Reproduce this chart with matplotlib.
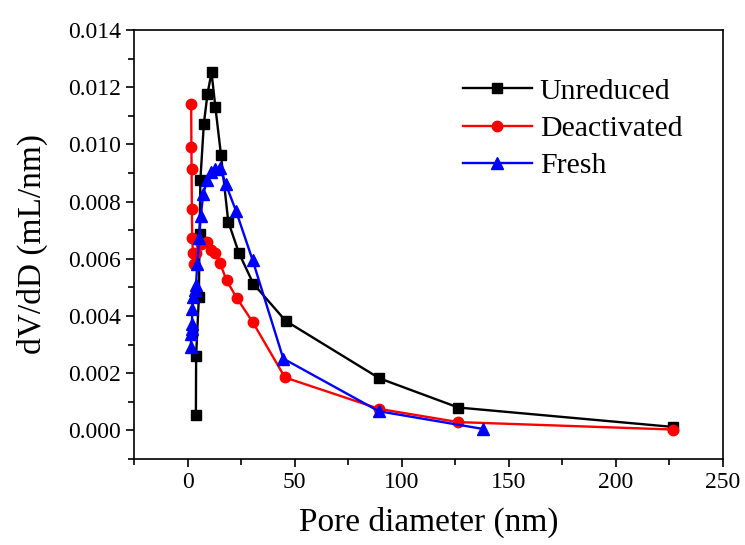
import matplotlib
matplotlib.use("Agg")
import matplotlib.pyplot as plt
from matplotlib.ticker import MultipleLocator

plt.rcParams['font.family'] = ['Liberation Serif', 'DejaVu Serif']
plt.rcParams['mathtext.fontset'] = 'stix'

unreduced_x = [3.9, 4.0, 5.3, 5.6, 6.0, 7.6, 9.3, 11.2, 13.0, 15.6, 19.0, 24.0, 30.7, 45.8, 89.6, 126.4, 226.8]
unreduced_y = [0.00053, 0.00261, 0.00468, 0.00686, 0.00877, 0.01071, 0.01176, 0.01252, 0.01130, 0.00964,
               0.00730, 0.00620, 0.00513, 0.00383, 0.00182, 0.00080, 0.00012]

deact_x = [1.7, 1.8, 1.9, 2.0, 2.2, 2.5, 3.0, 4.0, 6.5, 9.2, 11.0, 12.7, 15.1, 18.2, 22.9, 30.4, 45.5, 89.6, 126.4, 226.8]
deact_y = [0.01143, 0.00990, 0.00914, 0.00775, 0.00671, 0.00621, 0.00583, 0.00620, 0.00650, 0.00657,
           0.00630, 0.00622, 0.00586, 0.00525, 0.00464, 0.00379, 0.00185, 0.00075, 0.00029, 0.00003]

fresh_x = [1.5, 1.8, 1.9, 2.0, 2.3, 2.6, 3.4, 4.0, 4.5, 5.4, 6.2, 7.3, 9.2, 10.9, 12.8, 15.1, 17.9, 22.6, 30.4, 44.7, 89.3, 138.0]
fresh_y = [0.00292, 0.00338, 0.00356, 0.00371, 0.00426, 0.00467, 0.00490, 0.00510, 0.00583, 0.00671, 0.00750,
           0.00825, 0.00877, 0.00904, 0.00913, 0.00916, 0.00860, 0.00768, 0.00595, 0.00251, 0.00067, 0.00005]

labels = ["Unreduced", "Deactivated", "Fresh"]

fig = plt.figure(figsize=(7.45, 5.45), dpi=100)
ax = fig.add_axes([134/745, 1 - 459/545, (723 - 134)/745, (459 - 30)/545])

ax.plot(unreduced_x, unreduced_y, color='black', marker='s', markersize=7, linewidth=1.7, label=labels[0])
ax.plot(deact_x, deact_y, color='red', marker='o', markersize=7.5, linewidth=1.7, label=labels[1])
ax.plot(fresh_x, fresh_y, color='blue', marker='^', markersize=8, linewidth=1.7, label=labels[2])

ax.set_xlim(-25, 250)
ax.set_ylim(-0.001, 0.014)
ax.xaxis.set_major_locator(MultipleLocator(50))
ax.xaxis.set_minor_locator(MultipleLocator(25))
ax.yaxis.set_major_locator(MultipleLocator(0.002))
ax.yaxis.set_minor_locator(MultipleLocator(0.001))
ax.yaxis.set_major_formatter(matplotlib.ticker.FormatStrFormatter('%.3f'))
ax.tick_params(which='major', direction='out', length=6, width=1.2, labelsize=17)
ax.tick_params(which='minor', direction='out', length=4, width=1.2)
for s in ax.spines.values():
    s.set_linewidth(1.2)

ax.set_xlabel("Pore diameter (nm)", fontsize=24, labelpad=10)
ax.set_ylabel("dV/dD (mL/nm)", fontsize=24, labelpad=14)

ax.legend(loc='upper left', bbox_to_anchor=(0.5586, 0.888), frameon=False, fontsize=21.5,
          borderpad=0, borderaxespad=0, handlelength=2.3, handletextpad=0.27, labelspacing=0.34)

fig.savefig("out.png", dpi=100)
